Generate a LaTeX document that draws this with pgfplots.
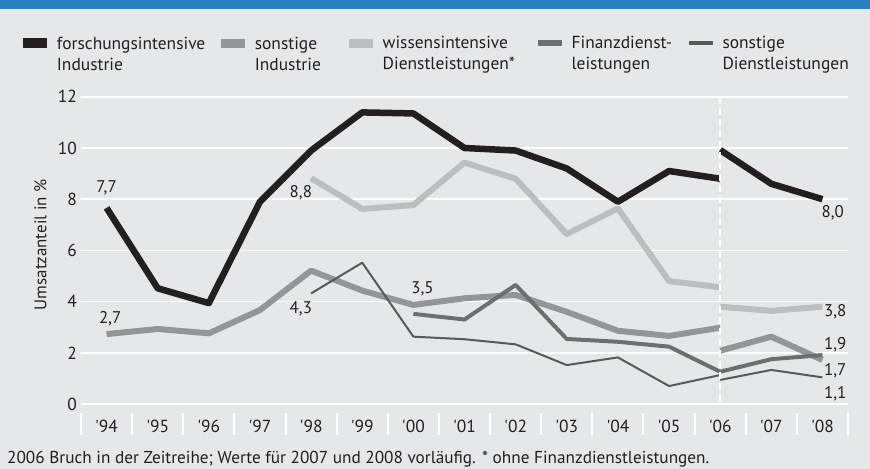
\documentclass[border=0pt]{standalone}
\usepackage{fontspec}
\setmainfont{PT Sans}
\usepackage{pgfplots}
\pgfplotsset{compat=1.18}
\definecolor{bg}{HTML}{E6E7E8}
\definecolor{topblue}{HTML}{2A80C4}
\definecolor{txt}{HTML}{231F20}
\definecolor{cA}{HTML}{231F20}
\definecolor{cB}{HTML}{939598}
\definecolor{cC}{HTML}{BCBEC0}
\definecolor{cD}{HTML}{6D6E71}
\definecolor{cE}{HTML}{58595B}
\newcommand{\lfont}{\fontsize{17.5}{21}\selectfont}
\begin{document}
\begin{tikzpicture}[x=1bp,y=1bp]
\useasboundingbox (0,0) rectangle (870,469);
\fill[bg] (0,0) rectangle (870,469);
\fill[topblue] (0,460) rectangle (870,469);
\begin{axis}[
  at={(81bp,65bp)}, anchor=south west,
  scale only axis, width=767bp, height=307.2bp,
  xmin=-0.5, xmax=14.5, ymin=0, ymax=12,
  clip=false,
  axis line style={draw=none},
  major tick length=0pt,
  ytick={0,2,...,12},
  /pgf/number format/assume math mode=true,
  ymajorgrids, grid style={white, line width=1.5bp},
  xtick={0,...,14},
  xticklabels={\textquotesingle94,\textquotesingle95,\textquotesingle96,\textquotesingle97,\textquotesingle98,\textquotesingle99,\textquotesingle00,\textquotesingle01,\textquotesingle02,\textquotesingle03,\textquotesingle04,\textquotesingle05,\textquotesingle06,\textquotesingle07,\textquotesingle08},
  tick label style={font=\fontsize{17.5}{20}\selectfont, text=txt},
  yticklabel style={anchor=east, inner sep=0pt, xshift=-4bp},
  xticklabel style={anchor=base, inner sep=0pt, yshift=-29bp},
  ylabel={Umsatzanteil in \%},
  ylabel style={at={(axis description cs:-0.053,0.518)}, anchor=center, font=\fontsize{17}{20}\selectfont, text=txt},
  legend columns=5,
  legend style={at={(-0.0756,1.1605)}, anchor=west, draw=none, fill=none,
    inner sep=0pt, outer sep=0pt, column sep=0pt,
    nodes={inner sep=0pt, outer sep=0pt, text=txt},
    /tikz/every odd column/.style={column sep=10.5bp}},
  every axis plot/.append style={line join=round, line cap=butt},
]
% separators below x axis
\pgfplotsinvokeforeach{-0.5,0.5,1.5,2.5,3.5,4.5,5.5,6.5,7.5,8.5,9.5,10.5,11.5,12.5,13.5,14.5}{
  \draw[white, line width=2bp] (axis cs:#1,0) ++(0bp,-9bp) -- ++(0bp,-22bp);
}
% wissensintensive Dienstleistungen
\addplot[cC, line width=6bp, forget plot] coordinates {(4,8.82)(5,7.62)(6,7.77)(7,9.43)(8,8.8)(9,6.64)(10,7.64)(11,4.8)(12,4.56)};
\addplot[cC, line width=6bp, forget plot] coordinates {(12,3.8)(13,3.64)(14,3.8)};
% sonstige Industrie
\addplot[cB, line width=6bp, forget plot] coordinates {(0,2.73)(1,2.93)(2,2.76)(3,3.67)(4,5.21)(5,4.43)(6,3.87)(7,4.13)(8,4.26)(9,3.6)(10,2.86)(11,2.66)(12,2.98)};
\addplot[cB, line width=6bp, forget plot] coordinates {(12,2.08)(13,2.63)(14,1.72)};
% Finanzdienstleistungen
\addplot[cD, line width=4bp, forget plot] coordinates {(6,3.52)(7,3.3)(8,4.65)(9,2.54)(10,2.43)(11,2.24)(12,1.26)(13,1.75)(14,1.91)};
% sonstige Dienstleistungen
\addplot[cE, line width=2bp, forget plot] coordinates {(4,4.32)(5,5.52)(6,2.63)(7,2.53)(8,2.33)(9,1.52)(10,1.82)(11,0.7)(12,1.13)};
\addplot[cE, line width=2bp, forget plot] coordinates {(12,0.94)(13,1.33)(14,1.04)};
% forschungsintensive Industrie
\addplot[cA, line width=6.5bp, forget plot] coordinates {(0,7.66)(1,4.52)(2,3.94)(3,7.9)(4,9.9)(5,11.39)(6,11.35)(7,10.0)(8,9.9)(9,9.2)(10,7.9)(11,9.1)(12,8.8)};
\addplot[cA, line width=6.5bp, forget plot] coordinates {(12,9.92)(13,8.6)(14,8.0)};
% break line
\draw[white, line width=2bp, dash pattern=on 7bp off 4bp] (axis cs:12,12) -- (axis cs:12,0);
% value labels
\begin{scope}[every node/.style={anchor=base, inner sep=0pt, text=txt, font=\fontsize{17}{20}\selectfont}]
\node at (axis cs:0,8.28) {7,7};
\node at (axis cs:0.07,3.16) {2,7};
\node at (axis cs:3.8,8.05) {8,8};
\node at (axis cs:3.8,3.55) {4,3};
\node at (axis cs:6.18,4.30) {3,5};
\node at (axis cs:14.2,7.30) {8,0};
\node at (axis cs:14.25,3.41) {3,8};
\node at (axis cs:14.25,2.14) {1,9};
\node at (axis cs:14.25,1.13) {1,7};
\node at (axis cs:14.25,0.22) {1,1};
\end{scope}
% legend
\addlegendimage{legend image code/.code={\fill[cA] (0bp,0bp) rectangle (23bp,9bp);}}
\addlegendentry{\parbox[c]{164bp}{\lfont forschungsintensive\\Industrie}}
\addlegendimage{legend image code/.code={\fill[cB] (0bp,0.5bp) rectangle (23bp,8.5bp);}}
\addlegendentry{\parbox[c]{94bp}{\lfont sonstige\\Industrie}}
\addlegendimage{legend image code/.code={\fill[cC] (0bp,0.5bp) rectangle (23bp,8.5bp);}}
\addlegendentry{\parbox[c]{155bp}{\lfont wissensintensive\\Dienstleistungen*}}
\addlegendimage{legend image code/.code={\fill[cD] (0bp,2bp) rectangle (23bp,7bp);}}
\addlegendentry{\parbox[c]{117bp}{\lfont Finanzdienst-\\leistungen}}
\addlegendimage{legend image code/.code={\fill[cE] (0bp,3bp) rectangle (23bp,6bp);}}
\addlegendentry{\parbox[c]{140bp}{\lfont sonstige\\Dienstleistungen}}
\end{axis}
\node[anchor=base west, inner sep=0pt, text=txt, font=\fontsize{17.3}{20}\selectfont] at (7,5) {2006 Bruch in der Zeitreihe; Werte für 2007 und 2008 vorläufig. * ohne Finanzdienstleistungen.};
\end{tikzpicture}
\end{document}
